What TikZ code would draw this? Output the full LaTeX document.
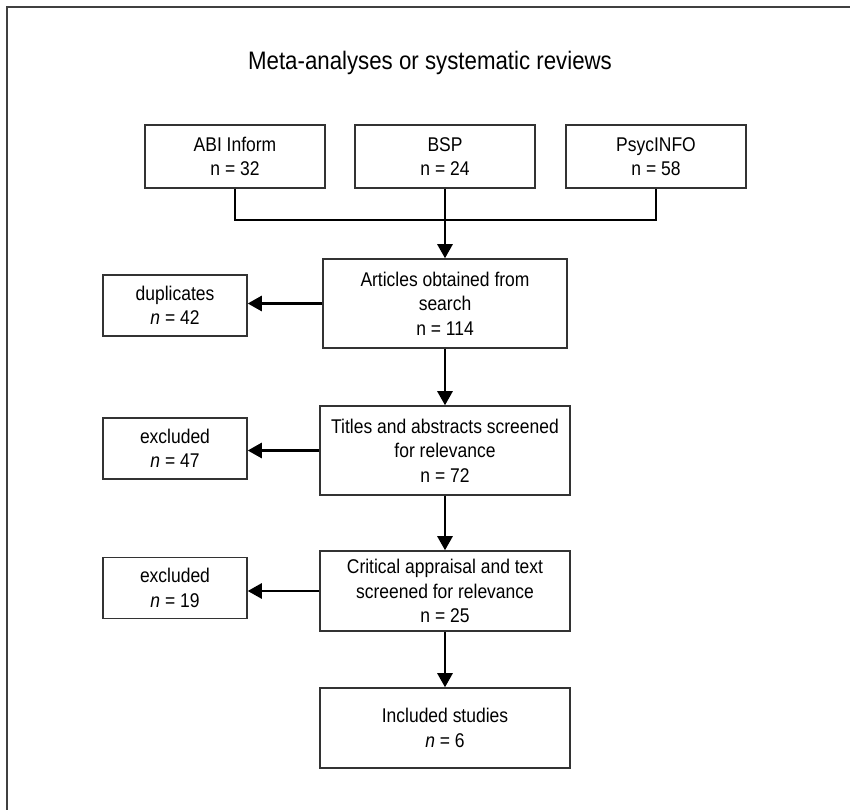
\documentclass[tikz,border=0pt]{standalone}
\usepackage{fontspec}
\setmainfont{Liberation Sans}[FakeStretch=0.88]
\usetikzlibrary{arrows.meta}

\begin{document}
\begin{tikzpicture}[
    dbbox/.style={draw=black!80, line width=0.8pt, minimum width=3.6cm, minimum height=1.26cm, align=center, font=\fontsize{11.3}{14}\selectfont, inner sep=2pt},
    flow/.style={dbbox, minimum width=5cm},
    side/.style={dbbox, minimum width=2.88cm, minimum height=1.22cm},
    arr/.style={-{Triangle[length=8pt,width=8.5pt]}, line width=1.6pt},
    merger/.style={line width=1.1pt}
]
\useasboundingbox (0,0) rectangle (17,-16.2);
\draw[black!75, line width=1.1pt] (0.14,-16.5) -- (0.14,-0.14) -- (17.5,-0.14);

\node[font=\fontsize{14.4}{17}\selectfont] (title) at (8.6,-1.26) {Meta-analyses or systematic reviews};

% databases
\node[dbbox] (abi) at (4.7,-3.13) {ABI Inform\\n = 32};
\node[dbbox] (bsp) at (8.9,-3.13) {BSP\\n = 24};
\node[dbbox] (psyc) at (13.12,-3.13) {PsycINFO\\n = 58};
\coordinate (merge) at (8.9,-4.4);

% main flow
\node[flow, minimum width=4.88cm, minimum height=1.78cm] (search) at (8.9,-6.07) {Articles obtained from\\search\\n = 114};
\node[flow, minimum height=1.78cm] (titles) at (8.9,-9.01) {Titles and abstracts screened\\for relevance\\n = 72};
\node[flow, minimum height=1.6cm] (critical) at (8.9,-11.82) {Critical appraisal and text\\screened for relevance\\n = 25};
\node[flow, minimum height=1.6cm] (included) at (8.9,-14.56) {Included studies\\\textit{n} = 6};

% removed
\node[side] (dup) at (3.5,-6.11) {duplicates\\\textit{n} = 42};
\node[side] (excl1) at (3.5,-8.97) {excluded\\\textit{n} = 47};
\node[side] (excl2) at (3.5,-11.76) {excluded\\\textit{n} = 19};

\draw[merger] (abi.south) |- (merge) -| (psyc.south);
\draw[arr] (bsp.south) -- (search.north);
\draw[arr] (search) -- (titles);
\draw[arr] (titles) -- (critical);
\draw[arr] (critical) -- (included);
\draw[arr] (search.west) -- (search.west -| dup.east);
\draw[arr] (titles.west) -- (titles.west -| excl1.east);
\draw[arr] (critical.west) -- (critical.west -| excl2.east);
\end{tikzpicture}
\end{document}
